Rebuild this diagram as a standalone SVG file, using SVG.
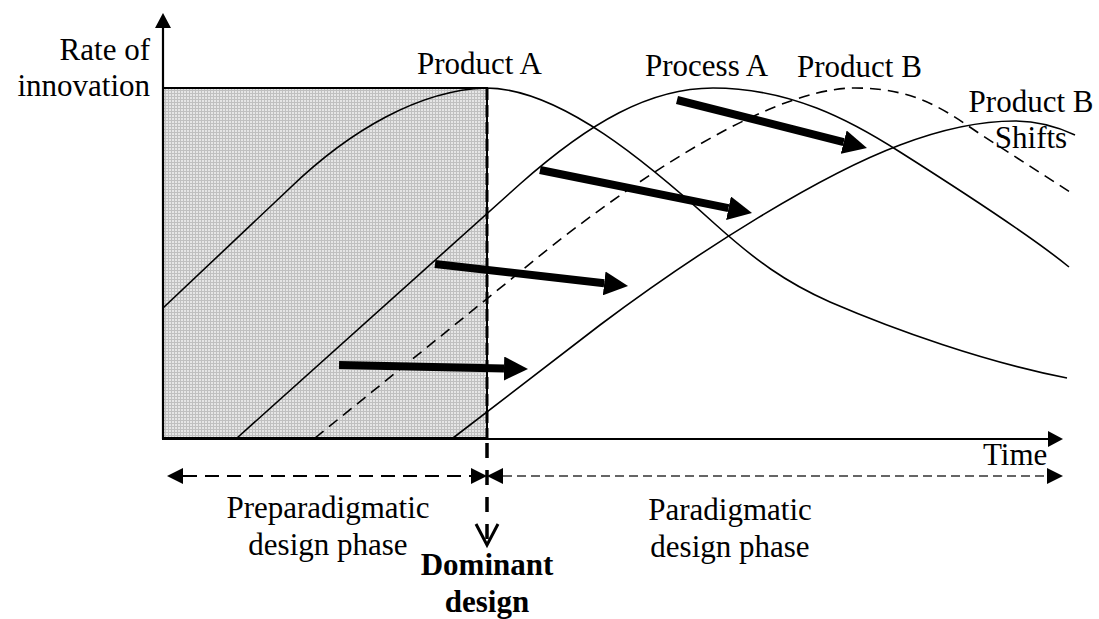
<svg xmlns="http://www.w3.org/2000/svg" width="1099" height="619" viewBox="0 0 1099 619">
  <style>
    .lbl { font-family: "Liberation Serif", "Times New Roman", serif; font-size: 31px; fill: #000; }
    .bold { font-weight: bold; }
    .curve { fill: none; stroke: #000; stroke-width: 1.6; }
    .dashc { fill: none; stroke: #000; stroke-width: 1.6; stroke-dasharray: 11 7; }
    .axis { fill: none; stroke: #000; stroke-width: 2.2; }
    .thick { fill: none; stroke: #000; stroke-width: 8; }
  </style>
  <defs>
    <pattern id="grid" width="3" height="3" patternUnits="userSpaceOnUse">
      <rect width="3" height="3" fill="#e6e6e6"/>
      <path d="M0,0.5 H3 M0.5,0 V3" stroke="#c0c0c0" stroke-width="1"/>
    </pattern>
    <marker id="big" markerUnits="userSpaceOnUse" markerWidth="24" markerHeight="24" refX="0" refY="12" orient="auto">
      <path d="M0,0 L24,12 L0,24 Z" fill="#000"/>
    </marker>
    <marker id="axhead" markerUnits="userSpaceOnUse" markerWidth="16" markerHeight="16" refX="0" refY="8" orient="auto">
      <path d="M0,0 L15,8 L0,16 Z" fill="#000"/>
    </marker>
    <marker id="dhead" markerUnits="userSpaceOnUse" markerWidth="16" markerHeight="16" refX="0" refY="8" orient="auto-start-reverse">
      <path d="M0,0 L16,8 L0,16 Z" fill="#000"/>
    </marker>
  </defs>

  <g id="shaded-region">
    <rect x="163" y="88" width="324" height="350" fill="url(#grid)" stroke="#000" stroke-width="2"/>
  </g>

  <g id="axes">
    <line class="axis" x1="163" y1="439" x2="163" y2="28" marker-end="url(#axhead)"/>
    <line class="axis" x1="162" y1="439" x2="1048" y2="439" marker-end="url(#axhead)"/>
  </g>

  <g id="curves">
    <path id="product-a" class="curve" d="M163,308 L290,188 C350,130 420,90 486,88 C560,88 650,165 715,224 C755,260 785,282 830,302 C895,330 985,362 1067,378"/>
    <path id="process-a" class="curve" d="M237,438 L520,184 C590,122 650,88 713,88 C790,88 850,120 900,152 C960,190 1030,235 1069,267"/>
    <path id="product-b" class="dashc" d="M315,438 L520,272 C600,205 760,88 855,88 C915,88 945,110 980,134 L1070,192"/>
    <path id="product-b-shifts" class="curve" d="M453,438 L600,325 C700,250 820,175 900,145 C950,126 985,121 1015,121 C1040,121 1060,128 1075,135"/>
  </g>

  <g id="connectors">
    <line class="thick" x1="339" y1="365" x2="504" y2="368.5" marker-end="url(#big)"/>
    <line class="thick" x1="435" y1="264" x2="604.2" y2="283.3" marker-end="url(#big)"/>
    <line class="thick" x1="540" y1="170" x2="728.5" y2="208.2" marker-end="url(#big)"/>
    <line class="thick" x1="677" y1="100" x2="843.7" y2="142.1" marker-end="url(#big)"/>
  </g>

  <g id="dominant-design-line">
    <line x1="487" y1="88" x2="487" y2="438" stroke="#000" stroke-width="3" stroke-dasharray="12 5"/>
    <line x1="487" y1="443" x2="487" y2="543" stroke="#000" stroke-width="3.5" stroke-dasharray="15 12"/>
    <polyline points="476,524 487,545 498,524" fill="none" stroke="#000" stroke-width="3"/>
  </g>

  <g id="phase-arrows">
    <line x1="183" y1="476" x2="471" y2="476" stroke="#000" stroke-width="2.2" stroke-dasharray="14 8" marker-start="url(#dhead)" marker-end="url(#dhead)"/>
    <line x1="503" y1="476" x2="1047" y2="476" stroke="#333" stroke-width="1.5" stroke-dasharray="9 5" marker-start="url(#dhead)" marker-end="url(#dhead)"/>
  </g>

  <g id="labels">
    <text class="lbl" x="150" y="60" text-anchor="end">Rate of</text>
    <text class="lbl" x="150" y="96" text-anchor="end">innovation</text>
    <text class="lbl" x="417" y="74">Product A</text>
    <text class="lbl" x="645" y="76">Process A</text>
    <text class="lbl" x="797" y="77">Product B</text>
    <text class="lbl" x="1031" y="112" text-anchor="middle">Product B</text>
    <text class="lbl" x="1031" y="148" text-anchor="middle">Shifts</text>
    <text class="lbl" x="983" y="465">Time</text>
    <text class="lbl" x="328" y="518" text-anchor="middle">Preparadigmatic</text>
    <text class="lbl" x="328" y="555" text-anchor="middle">design phase</text>
    <text class="lbl" x="730" y="520" text-anchor="middle">Paradigmatic</text>
    <text class="lbl" x="730" y="557" text-anchor="middle">design phase</text>
    <text class="lbl bold" x="487" y="575" text-anchor="middle">Dominant</text>
    <text class="lbl bold" x="487" y="612" text-anchor="middle">design</text>
  </g>
</svg>
